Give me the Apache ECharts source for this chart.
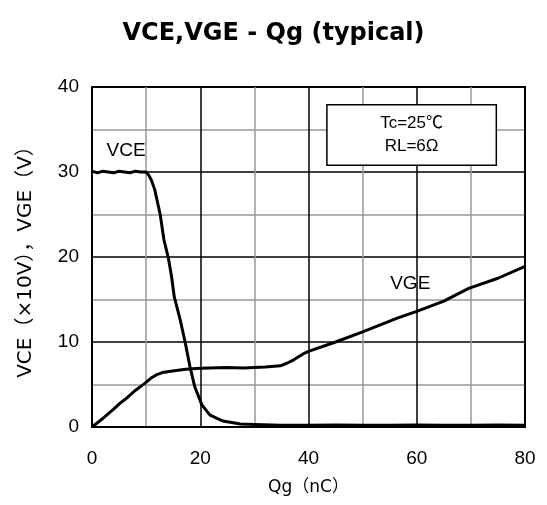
<!DOCTYPE html>
<html>
<head>
<meta charset="utf-8">
<script src="https://cdn.jsdelivr.net/npm/echarts@6/dist/echarts.min.js"></script>
<style>html,body{margin:0;padding:0;background:#fff}#c{width:547px;height:505px}</style>
</head>
<body>
<div id="c"></div>
<script>
var titleText = 'VCE,VGE - Qg (typical)';
var xName = 'Qg（nC）';
var yName = 'VCE（×10V），VGE（V）';
var noteText = 'Tc=25℃\nRL=6Ω';

var vceQ = [0,1,2,3,4,5,6,7,8,9,10,10.5,11,11.6,12.6,13.3,14.1,14.7,15.2,16.3,17.2,18.1,19.0,20.3,21.8,24.2,27.4,30,35,40,45,50,55,60,65,70,75,80];
var vceV = [30.1,29.9,30.1,30.0,29.9,30.1,30.0,29.9,30.1,30.0,30.0,29.6,29.0,27.9,25.0,22.0,19.9,17.7,15.3,12.6,10.0,7.1,4.7,2.6,1.4,0.7,0.35,0.3,0.2,0.2,0.25,0.2,0.2,0.25,0.2,0.2,0.25,0.2];

var vgeQ = [0,1,2,2.7,4,5,6.4,8,9.7,11,12.1,13,14.9,17.3,20,24.9,28,30,32,34.8,36,37,38,39,40,45,50,56.4,60,65,69.6,75,80];
var vgeV = [0,0.5,1.0,1.4,2.1,2.7,3.4,4.3,5.1,5.8,6.2,6.4,6.6,6.8,6.9,7.0,6.95,7.0,7.05,7.2,7.5,7.8,8.2,8.6,8.9,10.0,11.2,12.8,13.6,14.8,16.3,17.5,18.9];

var vceLabel = {text:'VCE', at:[6.3, 32.5]};
var vgeLabel = {text:'VGE', at:[58.8, 16.9]};
var noteBox = [[43.4, 37.9],[74.7, 30.8]];

function pairs(xs, ys){ return xs.map(function(x,i){return [x, ys[i]];}); }

var font = '"Liberation Sans", Arial, "Noto Sans CJK JP", sans-serif';
var wide = '"DejaVu Sans", "Noto Sans CJK JP", sans-serif';
var chart = echarts.init(document.getElementById('c'), null, {renderer:'canvas'});
chart.setOption({
  animation:false,
  backgroundColor:'#fff',
  title:{text:titleText, left:'center', top:17, textStyle:{fontFamily:'"DejaVu Sans", sans-serif', fontSize:24, fontWeight:'bold', color:'#000'}},
  grid:{left:92, right:22, top:87, bottom:78, show:true, borderColor:'#000', borderWidth:2, backgroundColor:'transparent'},
  xAxis:{type:'value', min:0, max:80, interval:20,
    name:xName, nameLocation:'middle', nameGap:52,
    nameTextStyle:{fontFamily:wide, fontSize:17, color:'#000'},
    axisLine:{show:true, lineStyle:{color:'#000', width:2}},
    axisTick:{show:false},
    axisLabel:{fontFamily:font, fontSize:19, color:'#000', margin:22},
    splitLine:{show:true, lineStyle:{color:'#000', width:1.5}},
    minorTick:{show:false, splitNumber:2},
    minorSplitLine:{show:true, lineStyle:{color:'#999', width:1.5}}
  },
  yAxis:{type:'value', min:0, max:40, interval:10,
    name:yName, nameLocation:'middle', nameGap:56,
    nameTextStyle:{fontFamily:wide, fontSize:20, color:'#000'},
    axisLine:{show:true, lineStyle:{color:'#000', width:2}},
    axisTick:{show:false},
    axisLabel:{fontFamily:font, fontSize:19, color:'#000', margin:13},
    splitLine:{show:true, lineStyle:{color:'#000', width:1.5}},
    minorTick:{show:false, splitNumber:2},
    minorSplitLine:{show:true, lineStyle:{color:'#999', width:1.5}}
  },
  series:[
    {name:'VCE', type:'line', data:pairs(vceQ, vceV), showSymbol:false, symbol:'none',
     lineStyle:{color:'#000', width:3}, z:3,
     markPoint:{symbol:'circle', symbolSize:1, itemStyle:{color:'rgba(0,0,0,0)'},
       label:{show:true, position:'inside', formatter:'{b}', fontFamily:font, fontSize:19, color:'#000'},
       data:[{name:vceLabel.text, coord:vceLabel.at}]},
     markArea:{silent:true, itemStyle:{color:'#fff', borderColor:'#000', borderWidth:1.5},
       label:{show:true, position:'inside', formatter:noteText, fontFamily:font, fontSize:17, lineHeight:23, color:'#000'},
       data:[[{coord:noteBox[0]},{coord:noteBox[1]}]]}
    },
    {name:'VGE', type:'line', data:pairs(vgeQ, vgeV), showSymbol:false, symbol:'none',
     lineStyle:{color:'#000', width:3}, z:3,
     markPoint:{symbol:'circle', symbolSize:1, itemStyle:{color:'rgba(0,0,0,0)'},
       label:{show:true, position:'inside', formatter:'{b}', fontFamily:font, fontSize:19, color:'#000'},
       data:[{name:vgeLabel.text, coord:vgeLabel.at}]}
    }
  ]
});
</script>
</body>
</html>
